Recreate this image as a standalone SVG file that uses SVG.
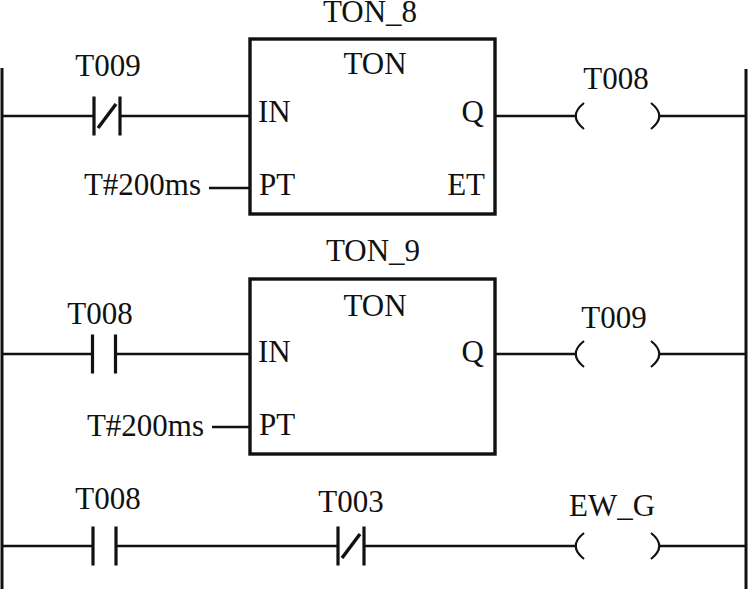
<svg xmlns="http://www.w3.org/2000/svg" width="748" height="589" viewBox="0 0 748 589">
<style>
text{font-family:"Liberation Serif","Times New Roman",serif;font-size:31px;fill:#111}
.m{text-anchor:middle}
.e{text-anchor:end}
.w{fill:none;stroke:#111;stroke-width:2.4}
.r{fill:none;stroke:#111;stroke-width:3}
.c{fill:none;stroke:#111;stroke-width:3.2}
.s{fill:none;stroke:#111;stroke-width:3.4}
.p{fill:none;stroke:#111;stroke-width:2.2}
.b{fill:#fff;stroke:#111;stroke-width:3.4}
</style>
<defs>
<g id="nc"><path class="c" d="M-13 -19.500V19.500M13 -19.500V19.500"/><path class="s" d="M-9 12L9 -12"/></g>
<g id="no"><path class="c" d="M-11.500 -19.500V19.500M11.500 -19.500V19.500"/></g>
<g id="coil"><path class="p" d="M-33.500 -13Q-50 0 -33.500 13M33.500 -13Q50 0 33.500 13"/></g>
</defs>
<g id="connectors">
<path class="r" d="M2 68V589M746 69V589"/>
<path class="w" d="M2 116H94M120 116H250M209 188H250M495 116H577M659 116H746"/>
<path class="w" d="M2 354H92M116 354H250M212 427H250M495 354H577M659 354H746"/>
<path class="w" d="M2 546H94M116 546H338M364 546H577M659 546H746"/>
</g>
<g id="contact-t009"><use href="#nc" x="107" y="116"/><text class="m" x="108" y="76">T009</text></g>
<g id="ton-8"><rect class="b" x="250" y="39" width="245" height="175"/><text class="m" x="370" y="22">TON_8</text><text class="m" x="375" y="74">TON</text><text x="258" y="122">IN</text><text x="259" y="195">PT</text><text class="e" x="484" y="122">Q</text><text class="e" x="485" y="195">ET</text></g>
<g id="pt-8"><text class="e" x="201" y="195">T#200ms</text></g>
<g id="coil-t008"><use href="#coil" x="617.500" y="116"/><text class="m" x="616" y="89">T008</text></g>
<g id="contact-t008-a"><use href="#no" x="104" y="354"/><text class="m" x="100" y="324">T008</text></g>
<g id="ton-9"><rect class="b" x="250" y="279" width="245" height="175"/><text class="m" x="373" y="261">TON_9</text><text class="m" x="375" y="316">TON</text><text x="258" y="362">IN</text><text x="259" y="435">PT</text><text class="e" x="484" y="362">Q</text></g>
<g id="pt-9"><text class="e" x="204" y="436">T#200ms</text></g>
<g id="coil-t009"><use href="#coil" x="617.500" y="354"/><text class="m" x="614" y="328">T009</text></g>
<g id="contact-t008-b"><use href="#no" x="104.500" y="546"/><text class="m" x="108" y="509">T008</text></g>
<g id="contact-t003"><use href="#nc" x="351" y="546"/><text class="m" x="351" y="512">T003</text></g>
<g id="coil-ew-g"><use href="#coil" x="617.500" y="546"/><text class="m" x="612" y="516">EW_G</text></g>
</svg>
